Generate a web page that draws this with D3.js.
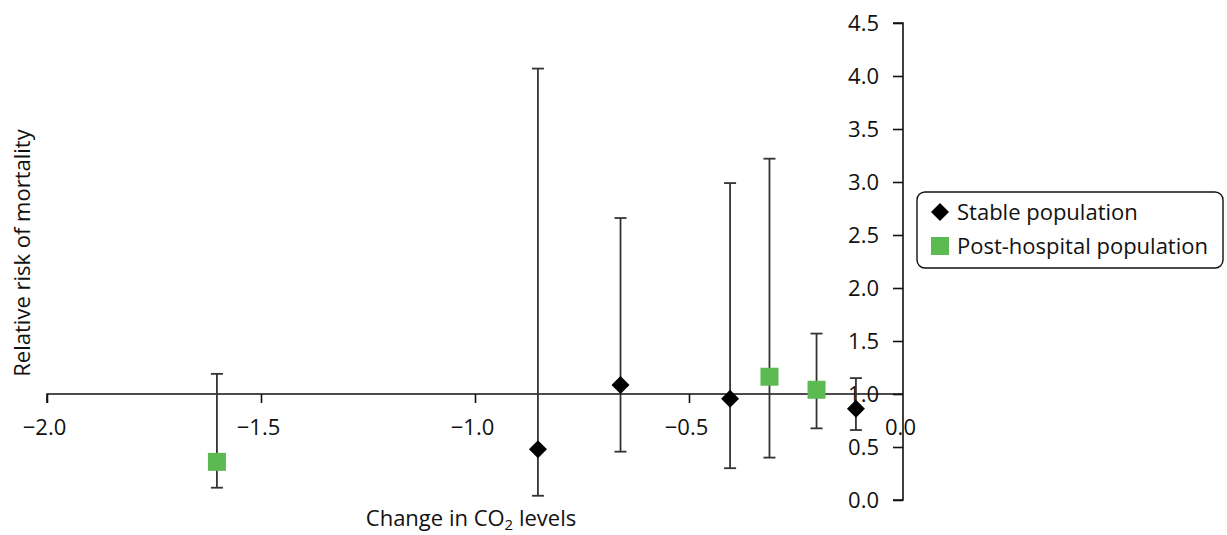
<!DOCTYPE html>
<html><head><meta charset="utf-8">
<script src="https://cdn.jsdelivr.net/npm/d3@7"></script>
<style>body{margin:0;background:#fff}svg{display:block}text{font-family:"Open Sans","Noto Sans",sans-serif;fill:#111}</style>
</head><body><svg id="c" width="1227" height="535"></svg>
<script>
const stableX = [-0.853, -0.660, -0.404, -0.110];
const stableY = [0.478, 1.085, 0.955, 0.86];
const stableLo = [0.04, 0.456, 0.30, 0.66];
const stableHi = [4.07, 2.66, 2.99, 1.15];
const postX = [-1.603, -0.312, -0.202];
const postY = [0.36, 1.163, 1.04];
const postLo = [0.116, 0.40, 0.676];
const postHi = [1.19, 3.22, 1.57];
const xTicks = [-2.0, -1.5, -1.0, -0.5, 0.0];
const yTicks = [0, 0.5, 1, 1.5, 2, 2.5, 3, 3.5, 4, 4.5];
const seriesNames = ["Stable population", "Post-hospital population"];

const FS = "22px";
const svg = d3.select("#c");
const x = d3.scaleLinear().domain([-2, 0]).range([47, 903]);
const y = d3.scaleLinear().domain([0, 4.5]).range([500, 23]);
const fmt = d3.format(".1f");
const fmtX = v => v === 0 ? "0.0" : "\u2212" + fmt(Math.abs(v));

// Y axis
const yAxis = svg.append("g").attr("transform", `translate(${x(0)},0)`)
  .call(d3.axisLeft(y).tickValues(yTicks).tickFormat(fmt).tickSize(10).tickPadding(14));
yAxis.select(".domain").attr("stroke", "#111").attr("stroke-width", 1.6).attr("d", `M-10,${y(4.5)}H0V${y(0)}H-10`);
yAxis.selectAll(".tick line").attr("stroke", "#111").attr("stroke-width", 1.6);
yAxis.selectAll("text").style("font-size", FS).attr("fill", "#111").attr("font-family", "Open Sans");

// X axis at y=1
const xAxis = svg.append("g").attr("transform", `translate(0,${y(1)})`)
  .call(d3.axisBottom(x).tickValues(xTicks).tickFormat(fmtX).tickSize(9).tickPadding(16));
xAxis.select(".domain").attr("stroke", "#111").attr("stroke-width", 1.6).attr("d", `M${x(-2)},9V0H${x(0)}`);
xAxis.selectAll(".tick line").attr("stroke", "#111").attr("stroke-width", 1.6);
xAxis.selectAll(".tick").filter(d => d === 0).select("line").remove();
xAxis.selectAll("text").style("font-size", FS).attr("fill", "#111").attr("font-family", "Open Sans").attr("dx", -3);

// error bars
function errBars(xs, lo, hi) {
  const g = svg.append("g").attr("stroke", "#333").attr("stroke-width", 1.8);
  xs.forEach((v, i) => {
    g.append("line").attr("x1", x(v)).attr("x2", x(v)).attr("y1", y(lo[i])).attr("y2", y(hi[i]));
    g.append("line").attr("x1", x(v) - 6).attr("x2", x(v) + 6).attr("y1", y(lo[i])).attr("y2", y(lo[i]));
    g.append("line").attr("x1", x(v) - 6).attr("x2", x(v) + 6).attr("y1", y(hi[i])).attr("y2", y(hi[i]));
  });
}
errBars(stableX, stableLo, stableHi);
errBars(postX, postLo, postHi);

const green = "#5cba52";
const diamond = "M0,-9L9,0L0,9L-9,0Z";
svg.append("g").selectAll("path").data(stableX).join("path")
  .attr("d", diamond).attr("fill", "#000")
  .attr("transform", (d, i) => `translate(${x(d)},${y(stableY[i])})`);
svg.append("g").selectAll("rect").data(postX).join("rect")
  .attr("x", d => x(d) - 9).attr("y", (d, i) => y(postY[i]) - 9)
  .attr("width", 18).attr("height", 18).attr("fill", green);

// axis titles
svg.append("text").attr("x", 471).attr("y", 526).attr("text-anchor", "middle").style("font-size", FS)
  .html('Change in CO<tspan dy="4" font-size="15px">2</tspan><tspan dy="-4"> levels</tspan>');
svg.append("text").attr("transform", "translate(30,253) rotate(-90)").attr("text-anchor", "middle").style("font-size", FS)
  .text("Relative risk of mortality");

// legend
const lg = svg.append("g");
lg.append("rect").attr("x", 917).attr("y", 192).attr("width", 306).attr("height", 76).attr("rx", 8)
  .attr("fill", "#fff").attr("stroke", "#111").attr("stroke-width", 1.4);
lg.append("path").attr("d", diamond).attr("fill", "#000").attr("transform", "translate(940,212)");
lg.append("rect").attr("x", 931).attr("y", 237).attr("width", 18).attr("height", 18).attr("fill", green);
lg.append("text").attr("x", 957).attr("y", 220).style("font-size", FS).text(seriesNames[0]);
lg.append("text").attr("x", 957).attr("y", 254).style("font-size", FS).text(seriesNames[1]);
</script></body></html>
